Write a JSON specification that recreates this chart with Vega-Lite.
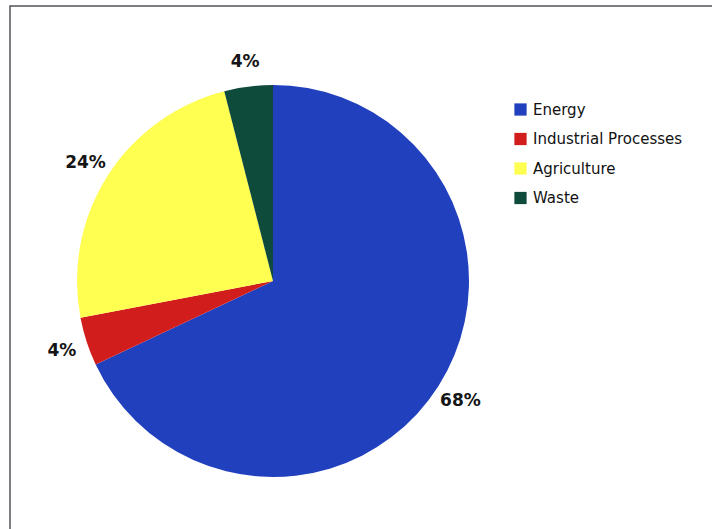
{
  "$schema": "https://vega.github.io/schema/vega-lite/v6.json",
  "autosize": "none",
  "width": 740,
  "height": 560,
  "padding": {"left": 10, "top": 6, "right": 0, "bottom": 0},
  "background": "white",
  "view": {"stroke": "#55525a", "strokeWidth": 1.5, "fill": "white"},
  "config": {
    "font": "DejaVu Sans"
  },
  "data": {
    "values": [
      {"sector": "Energy", "share": 0.68, "rank": 1},
      {"sector": "Industrial Processes", "share": 0.04, "rank": 2},
      {"sector": "Agriculture", "share": 0.24, "rank": 3},
      {"sector": "Waste", "share": 0.04, "rank": 4}
    ]
  },
  "encoding": {
    "theta": {"field": "share", "type": "quantitative", "stack": true},
    "order": {"field": "rank", "type": "quantitative"}
  },
  "layer": [
    {
      "mark": {"type": "arc", "outerRadius": 196, "x": 263, "y": 275},
      "encoding": {
        "color": {
          "field": "sector",
          "type": "nominal",
          "scale": {
            "domain": ["Energy", "Industrial Processes", "Agriculture", "Waste"],
            "range": ["#2140bd", "#d21d1d", "#ffff52", "#0f4b3b"]
          },
          "legend": {
            "title": null,
            "orient": "none",
            "legendX": 503,
            "legendY": 96,
            "symbolType": "square",
            "symbolSize": 150,
            "symbolStrokeWidth": 0,
            "labelFont": "DejaVu Sans",
            "labelFontSize": 15,
            "labelColor": "#111111",
            "labelOffset": 5,
            "rowPadding": 13.5
          }
        }
      }
    },
    {
      "mark": {"type": "text", "radius": 222, "x": 263, "y": 276, "fontSize": 17, "fontWeight": "bold", "font": "DejaVu Sans", "color": "#151515", "align": "center", "baseline": "middle"},
      "encoding": {
        "text": {"field": "share", "type": "quantitative", "format": ".0%"},
        "detail": {"field": "sector"}
      }
    }
  ]
}
